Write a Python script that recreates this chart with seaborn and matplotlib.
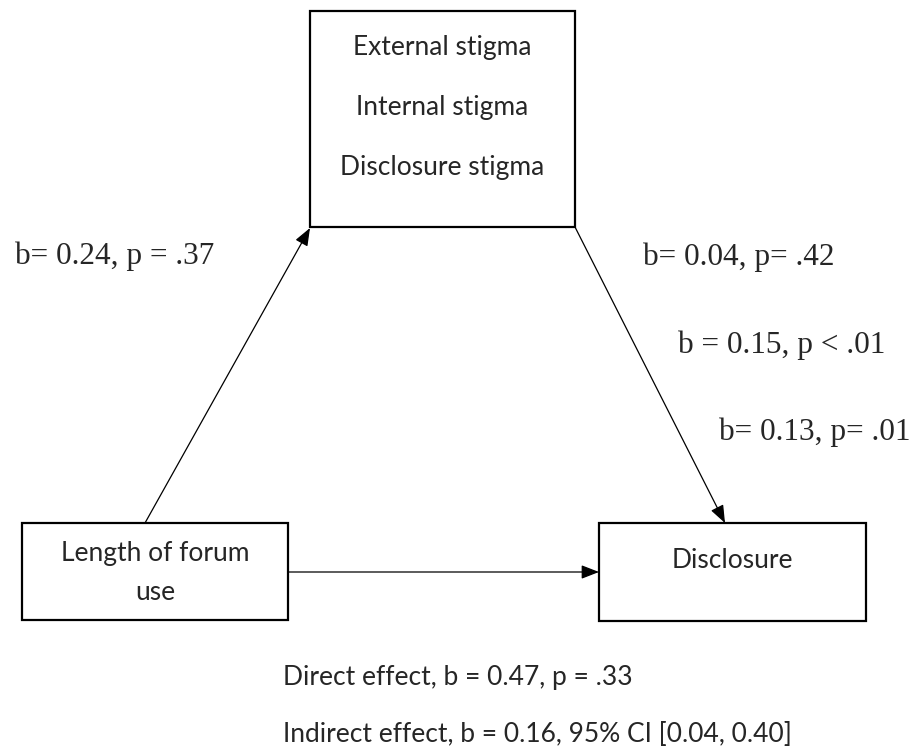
import matplotlib
matplotlib.use("Agg")
import matplotlib.pyplot as plt
import seaborn as sns
from matplotlib.patches import Rectangle

# node labels
mediators = ["External stigma", "Internal stigma", "Disclosure stigma"]
predictor = ["Length of forum", "use"]
outcome = "Disclosure"

# path coefficients
a_path = ["b= 0.24, p = .37"]
b_paths = ["b= 0.04, p= .42", "b = 0.15, p < .01", "b= 0.13, p= .01"]
effects = ["Direct effect, b = 0.47, p = .33",
           "Indirect effect, b = 0.16, 95% CI [0.04, 0.40]"]

sns.set_theme(style="white")
plt.rcParams["font.family"] = ["Lato", "DejaVu Sans"]

fig = plt.figure(figsize=(9.19, 7.51), dpi=100)
ax = fig.add_axes([0, 0, 1, 1])
ax.set_xlim(0, 919)
ax.set_ylim(751, 0)
ax.axis("off")

# boxes: (x0, y0, x1, y1) in pixel space
top_box = (310, 11, 575, 227)
left_box = (22, 523, 288, 620)
right_box = (599, 523, 866, 621)
for x0, y0, x1, y1 in [top_box, left_box, right_box]:
    ax.add_patch(Rectangle((x0, y0), x1 - x0, y1 - y0, fill=False,
                           edgecolor="black", linewidth=1.6))

sans = 19
for i, m in enumerate(mediators):
    ax.text(442, 48 + i * 60, m, ha="center", va="center", fontsize=sans)
for i, line in enumerate(predictor):
    ax.text(155, 553 + i * 39, line, ha="center", va="center", fontsize=sans)
ax.text(732, 560, outcome, ha="center", va="center", fontsize=sans)

arrow = dict(arrowstyle="-|>,head_length=0.9,head_width=0.35", color="black",
             lw=0.9, shrinkA=0, shrinkB=0)
ax.annotate("", xy=(310, 228), xytext=(145, 523), arrowprops=arrow)
ax.annotate("", xy=(725, 523), xytext=(575, 227), arrowprops=arrow)
ax.annotate("", xy=(599, 572), xytext=(288, 572), arrowprops=arrow)

serif = dict(family=["Liberation Serif", "DejaVu Serif"], fontsize=22.5)
ax.text(15, 256, a_path[0], ha="left", va="center", **serif)
b_pos = [(643, 257), (678, 345), (719, 432)]
for (x, y), t in zip(b_pos, b_paths):
    ax.text(x, y, t, ha="left", va="center", **serif)

for i, t in enumerate(effects):
    ax.text(283, 677 + i * 58, t, ha="left", va="center", fontsize=sans)

fig.savefig("out.png", dpi=100, facecolor="white")
